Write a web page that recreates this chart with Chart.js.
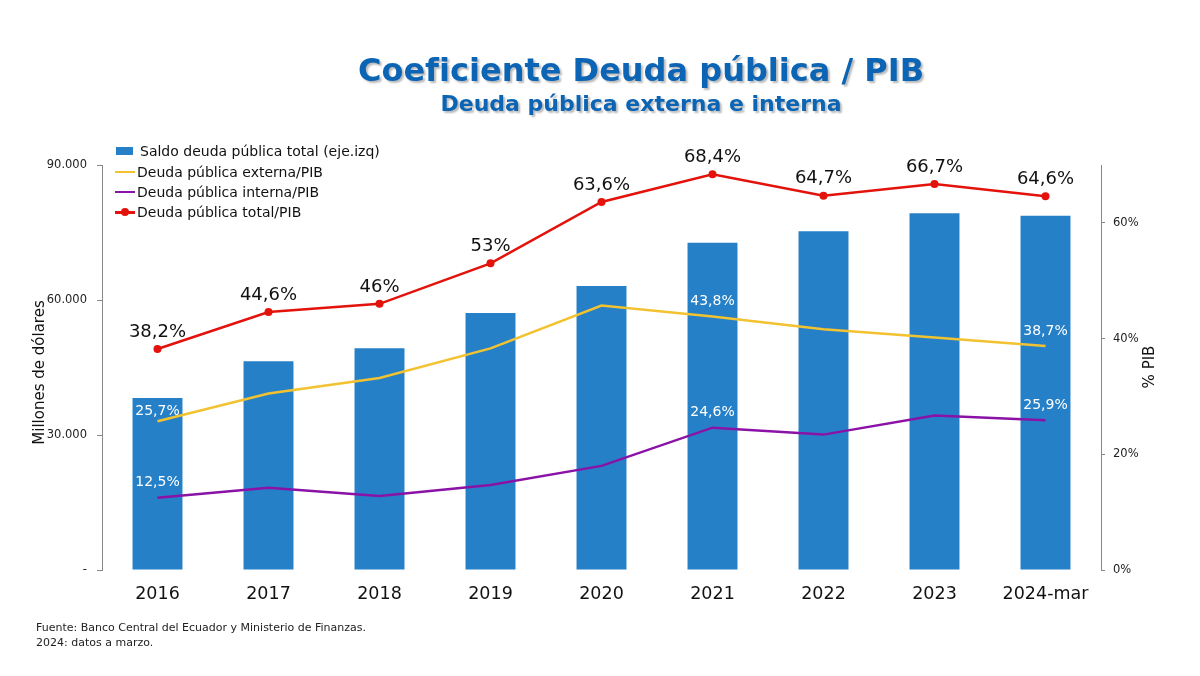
<!DOCTYPE html>
<html lang="es">
<head>
<meta charset="utf-8">
<script src="https://cdn.jsdelivr.net/npm/chart.js@4.4.1/dist/chart.umd.min.js"></script>
<style>
  html, body { margin: 0; padding: 0; background: #fff; }
  #wrap { position: relative; width: 1200px; height: 676px; font-family: "DejaVu Sans", Verdana, sans-serif; }
  #wrap canvas { position: absolute; left: 0; top: 0; }
  .title { position: absolute; left: 641px; transform: translateX(-50%); white-space: nowrap;
           color: #0b64b4; font-weight: bold; text-shadow: 2px 2px 2px rgba(0,0,0,0.28); }
  #t1 { top: 50px; font-size: 32px; line-height: 40px; }
  #t2 { top: 90px; font-size: 22px; line-height: 28px; }
  #legend { position: absolute; left: 115px; top: 141px; font-size: 14px; color: #111; }
  #legend .item { height: 20.4px; line-height: 20px; display: flex; align-items: center; }
  #legend .sw { position: relative; width: 20px; height: 20px; margin-right: 2px; }
  #legend .bar { position: absolute; left: 1px; top: 6px; width: 17px; height: 8px; }
  #legend .ln { position: absolute; left: 0; top: 9px; width: 20px; height: 2.5px; }
  #legend .dot { position: absolute; left: 6px; top: 6px; width: 8px; height: 8px; border-radius: 50%; }
  #foot { position: absolute; left: 36px; top: 620px; font-size: 11px; line-height: 15px; color: #222; }
</style>
</head>
<body>
<div id="wrap">
  <canvas id="c" width="1200" height="676"></canvas>
  <div class="title" id="t1">Coeficiente Deuda pública / PIB</div>
  <div class="title" id="t2">Deuda pública externa e interna</div>
  <div id="legend"></div>
  <div id="foot">Fuente: Banco Central del Ecuador y Ministerio de Finanzas.<br>2024: datos a marzo.</div>
</div>
<script>
// Ecuador: public debt stock (millions USD, left axis) and debt/GDP ratios (%, right axis).

var YEARS = ["2016", "2017", "2018", "2019", "2020", "2021", "2022", "2023", "2024-mar"];
var SALDO_TOTAL = [38200, 46400, 49300, 57100, 63100, 72700, 75300, 79300, 78700];
var TOTAL_PIB = [38.2, 44.6, 46.0, 53.0, 63.6, 68.4, 64.7, 66.7, 64.6];
var EXTERNA_PIB = [25.7, 30.5, 33.2, 38.3, 45.7, 43.8, 41.6, 40.2, 38.7];
var INTERNA_PIB = [12.5, 14.2, 12.8, 14.7, 18.0, 24.6, 23.4, 26.7, 25.9];
// which points get a white value label (externa / interna)
var LABELED_IDX = [0, 5, 8];

var LEFT_TICKS = [0, 30000, 60000, 90000];
var RIGHT_TICKS = [0, 20, 40, 60];

var C_BAR = "#2580c8";
var C_EXT = "#f2c230";
var C_INT = "#8a12a6";
var C_TOT = "#e3120b";
var FONT = "'DejaVu Sans', Verdana, sans-serif";

function fmtPct(v) {
  return String(v).replace(".", ",") + "%";
}
function fmtMiles(v) {
  if (v === 0) return "-";
  return String(v).replace(/\B(?=(\d{3})+(?!\d))/g, ".");
}

// legend (HTML, top-left over the plot)
(function () {
  var items = [
    { text: "Saldo deuda pública total (eje.izq)", kind: "bar", color: C_BAR },
    { text: "Deuda pública externa/PIB", kind: "line", color: C_EXT },
    { text: "Deuda pública interna/PIB", kind: "line", color: C_INT },
    { text: "Deuda pública total/PIB", kind: "dot", color: C_TOT }
  ];
  var html = "";
  items.forEach(function (it) {
    var sw = it.kind === "bar"
      ? "<span class='bar' style='background:" + it.color + "'></span>"
      : "<span class='ln' style='background:" + it.color + "'></span>" +
        (it.kind === "dot" ? "<span class='dot' style='background:" + it.color + "'></span>" : "");
    var pad = it.kind === "bar" ? "style='margin-left:3px'" : "";
    html += "<div class='item'><span class='sw'>" + sw + "</span><span " + pad + ">" + it.text + "</span></div>";
  });
  document.getElementById("legend").innerHTML = html;
})();

var labelPlugin = {
  id: "valueLabels",
  afterDatasetsDraw: function (chart) {
    var ctx = chart.ctx;
    ctx.save();
    ctx.textAlign = "center";
    ctx.textBaseline = "middle";
    // total: black labels above every point
    var mTot = chart.getDatasetMeta(3);
    ctx.font = "18px " + FONT;
    ctx.fillStyle = "#111";
    mTot.data.forEach(function (pt, i) {
      ctx.fillText(fmtPct(TOTAL_PIB[i]), pt.x, pt.y - 17);
    });
    // externa / interna: white labels on selected points
    ctx.font = "14px " + FONT;
    ctx.fillStyle = "#fff";
    [[1, EXTERNA_PIB], [2, INTERNA_PIB]].forEach(function (pair) {
      var meta = chart.getDatasetMeta(pair[0]);
      LABELED_IDX.forEach(function (i) {
        var pt = meta.data[i];
        var dy = (pair[0] === 1 && i === 0) ? -10 : -15;
        ctx.fillText(fmtPct(pair[1][i]), pt.x, pt.y + dy);
      });
    });
    ctx.restore();
  },
  afterDraw: function (chart) {
    var ctx = chart.ctx, a = chart.chartArea;
    ctx.save();
    ctx.fillStyle = "#111";
    ctx.textAlign = "center";
    ctx.textBaseline = "middle";
    ctx.font = "15px " + FONT;
    ctx.translate(40, (a.top + a.bottom) / 2 + 5);
    ctx.rotate(-Math.PI / 2);
    ctx.fillText("Millones de dólares", 0, 0);
    ctx.restore();
    ctx.save();
    ctx.fillStyle = "#111";
    ctx.textAlign = "center";
    ctx.textBaseline = "middle";
    ctx.font = "15px " + FONT;
    ctx.translate(1150, 367);
    ctx.rotate(-Math.PI / 2);
    ctx.fillText("% PIB", 0, 0);
    ctx.restore();
  }
};

function keepTicks(list) {
  return function (scale) {
    scale.ticks = list.map(function (v) { return { value: v }; });
  };
}

new Chart(document.getElementById("c"), {
  data: {
    labels: YEARS,
    datasets: [
      { type: "bar", label: "Saldo deuda pública total (eje.izq)", data: SALDO_TOTAL,
        backgroundColor: C_BAR, yAxisID: "y", order: 4,
        barPercentage: 0.9, categoryPercentage: 0.5 },
      { type: "line", label: "Deuda pública externa/PIB", data: EXTERNA_PIB,
        borderColor: C_EXT, backgroundColor: C_EXT, borderWidth: 2.5, pointRadius: 0,
        tension: 0, yAxisID: "y1", order: 2 },
      { type: "line", label: "Deuda pública interna/PIB", data: INTERNA_PIB,
        borderColor: C_INT, backgroundColor: C_INT, borderWidth: 2.5, pointRadius: 0,
        tension: 0, yAxisID: "y1", order: 1 },
      { type: "line", label: "Deuda pública total/PIB", data: TOTAL_PIB,
        borderColor: C_TOT, backgroundColor: C_TOT, borderWidth: 2.5, pointRadius: 4,
        pointBorderWidth: 0, tension: 0, yAxisID: "y1", order: 0 }
    ]
  },
  options: {
    responsive: false,
    animation: false,
    layout: { padding: { top: 165, left: 0, right: 0, bottom: 0 } },
    plugins: { legend: { display: false }, tooltip: { enabled: false } },
    scales: {
      x: {
        grid: { display: false }, border: { display: false },
        ticks: { color: "#111", font: { family: FONT, size: 17.5 }, padding: 6, maxRotation: 0 },
        afterFit: function (s) { s.height = 106; }
      },
      y: {
        position: "left", min: 0, max: 90000,
        afterBuildTicks: keepTicks(LEFT_TICKS),
        grid: { drawOnChartArea: false, tickLength: 5, color: "#888" },
        border: { color: "#888" },
        ticks: { color: "#222", font: { family: FONT, size: 11.5 }, padding: 10,
                 callback: function (v) { return fmtMiles(v); } },
        afterFit: function (s) { s.width = 102; }
      },
      y1: {
        position: "right", min: 0, max: 70,
        afterBuildTicks: keepTicks(RIGHT_TICKS),
        grid: { drawOnChartArea: false, tickLength: 4, color: "#888" },
        border: { color: "#888" },
        ticks: { color: "#222", font: { family: FONT, size: 11.5 }, padding: 8,
                 callback: function (v) { return v + "%"; } },
        afterFit: function (s) { s.width = 99; }
      }
    }
  },
  plugins: [labelPlugin]
});
</script>
</body>
</html>
